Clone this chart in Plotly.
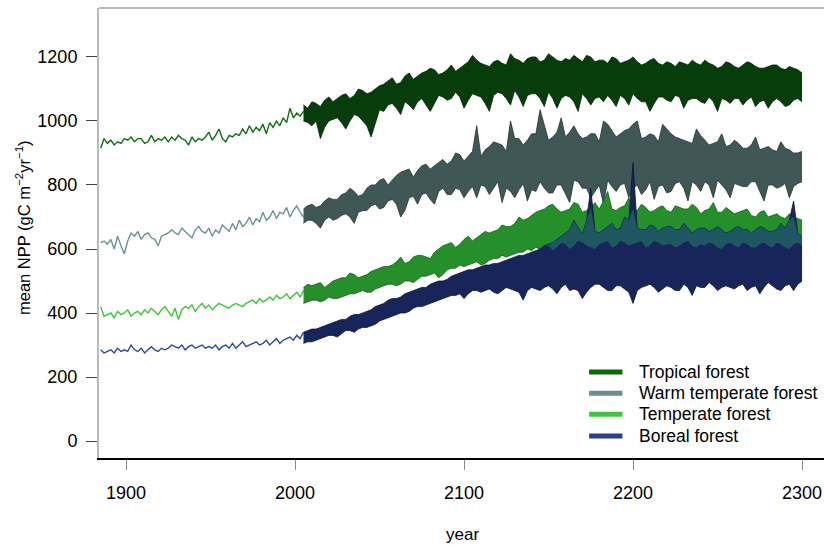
import numpy as np
import plotly.graph_objects as go

# ---------------- data ----------------
pre_years = list(range(1885, 2006, 2))        # record before 2005 (every 2 years)
post_step_years = list(range(2005, 2301, 5))  # scenario envelope, 5-year points
# the scenario envelope also carries a value half-way between every 5-year point

series_names = ["Tropical forest", "Warm temperate forest", "Temperate forest", "Boreal forest"]

tropical_pre = [915, 945, 930, 940, 925, 935, 930, 945, 940, 950,
                935, 945, 945, 930, 935, 955, 935, 945, 940, 950,
                935, 950, 940, 955, 945, 940, 925, 950, 935, 945,
                940, 950, 965, 940, 955, 975, 945, 935, 955, 950,
                960, 955, 975, 960, 985, 965, 980, 970, 990, 960,
                995, 980, 1000, 985, 1010, 995, 1040, 1010, 1025, 1015,
                1030]
warm_pre = [620, 625, 615, 630, 600, 640, 610, 585, 625, 650,
            640, 655, 630, 645, 650, 635, 630, 610, 640, 645,
            650, 660, 650, 645, 665, 655, 645, 635, 660, 670,
            655, 650, 665, 640, 660, 650, 675, 665, 655, 680,
            660, 690, 670, 680, 700, 675, 695, 685, 715, 690,
            700, 720, 695, 715, 710, 730, 700, 720, 735, 715,
            700]
temperate_pre = [420, 390, 395, 400, 385, 405, 395, 400, 410, 390,
                 400, 405, 395, 410, 400, 415, 405, 395, 410, 420,
                 405, 390, 415, 380, 410, 420, 415, 425, 405, 420,
                 430, 415, 425, 410, 420, 430, 425, 420, 415, 425,
                 430, 425, 420, 430, 435, 440, 430, 445, 435, 440,
                 450, 440, 455, 445, 450, 460, 445, 455, 465, 450,
                 470]
boreal_pre = [285, 275, 280, 285, 275, 290, 280, 285, 280, 300,
              285, 280, 290, 275, 285, 295, 285, 280, 290, 285,
              290, 300, 295, 290, 300, 285, 295, 300, 290, 295,
              300, 290, 295, 290, 300, 285, 295, 300, 290, 305,
              290, 300, 310, 295, 300, 305, 310, 300, 305, 315,
              300, 310, 320, 305, 315, 320, 325, 315, 330, 320,
              340]

# envelopes, 5-year points
tropical_low = [1000, 985, 945, 1000, 1010, 975, 1020, 1000, 950, 1035,
                1050, 1040, 1060, 1035, 1070, 1030, 1080, 1065, 1090, 1040,
                1085, 1075, 1030, 1090, 1070, 1095, 1045, 1085, 1070, 1090,
                1040, 1080, 1060, 1085, 1050, 1075, 1080, 1045, 1070, 1085,
                1060, 1030, 1075, 1065, 1080, 1040, 1070, 1060, 1075, 1030,
                1065, 1070, 1050, 1075, 1060, 1040, 1070, 1045, 1065, 1060]
tropical_high = [1050, 1060, 1045, 1075, 1070, 1085, 1080, 1095, 1090, 1110,
                 1125, 1115, 1140, 1130, 1150, 1165, 1145, 1160, 1155, 1175,
                 1205, 1180, 1170, 1190, 1175, 1195, 1180, 1200, 1185, 1210,
                 1190, 1195, 1205, 1185, 1200, 1190, 1180, 1195, 1185, 1200,
                 1175, 1190, 1180, 1185, 1170, 1180, 1190, 1175, 1180, 1165,
                 1185, 1170, 1175, 1180, 1165, 1170, 1175, 1160, 1165, 1150]
warm_low = [680, 690, 665, 700, 695, 710, 680, 720, 735, 725,
            750, 740, 720, 765, 770, 755, 780, 770, 790, 760,
            795, 800, 770, 810, 790, 760, 805, 785, 810, 775,
            800, 770, 815, 790, 760, 800, 815, 780, 805, 790,
            770, 810, 795, 775, 805, 790, 810, 780, 800, 815,
            785, 805, 795, 810, 780, 800, 790, 805, 795, 810]
warm_high = [725, 740, 735, 760, 755, 775, 780, 770, 800, 815,
             800, 830, 845, 825, 860, 850, 870, 865, 900, 875,
             905, 890, 920, 930, 905, 945, 925, 960, 1035, 940,
             965, 950, 985, 945, 960, 935, 990, 950, 970, 990,
             945, 960, 935, 975, 950, 940, 930, 955, 925, 935,
             920, 940, 915, 925, 910, 920, 905, 915, 900, 905]
temperate_low = [430, 440, 435, 450, 445, 455, 460, 470, 465, 480,
                 490, 485, 500, 495, 515, 520, 510, 535, 540, 545,
                 555, 550, 565, 570, 575, 585, 590, 595, 600, 610,
                 605, 615, 610, 620, 605, 615, 625, 610, 620, 615,
                 625, 610, 620, 615, 605, 620, 610, 615, 620, 605,
                 615, 610, 620, 605, 615, 610, 620, 605, 615, 610]
temperate_high = [480, 485, 495, 490, 505, 510, 520, 515, 530, 540,
                  545, 560, 555, 575, 580, 570, 600, 615, 605, 630,
                  625, 645, 650, 660, 670, 680, 690, 705, 720, 735,
                  725, 720, 745, 715, 730, 725, 780, 720, 735, 725,
                  740, 715, 730, 720, 735, 725, 740, 710, 725, 715,
                  730, 710, 720, 705, 715, 700, 710, 695, 700, 690]
boreal_low = [305, 310, 320, 330, 325, 345, 340, 355, 360, 375,
              385, 395, 400, 415, 420, 430, 440, 450, 455, 445,
              470, 465, 475, 460, 480, 470, 440, 480, 470, 485,
              460, 490, 475, 445, 480, 490, 470, 485, 475, 430,
              480, 490, 465, 485, 470, 490, 455, 480, 495, 470,
              485, 475, 490, 480, 460, 495, 475, 485, 470, 500]
boreal_high = [340, 350, 355, 365, 375, 380, 395, 400, 410, 425,
               440, 445, 460, 470, 480, 490, 500, 505, 520, 530,
               535, 545, 550, 555, 565, 575, 580, 590, 600, 615,
               630, 650, 690, 645, 790, 650, 670, 660, 700, 870,
               660, 675, 655, 670, 660, 680, 650, 665, 655, 670,
               650, 665, 660, 650, 670, 655, 660, 665, 750, 640]

# envelopes, half-way points (2007.5, 2012.5, ... 2297.5)
tropical_low_mid = [995, 1000, 980, 1005, 995, 1000, 1015, 985, 990,
                    1030, 1055, 1020, 1050, 1060, 1050, 1055, 1075, 1070, 1075,
                    1065, 1080, 1055, 1080, 1085, 1050, 1075, 1080, 1085, 1045,
                    1070, 1070, 1075, 1030, 1070, 1070, 1060, 1065, 1080, 1050,
                    1070, 1060, 1055, 1075, 1060, 1075, 1065, 1070, 1055, 1060,
                    1070, 1055, 1070, 1065, 1045, 1065, 1060, 1060, 1050, 1070]
tropical_high_mid = [1040, 1055, 1065, 1060, 1080, 1070, 1100, 1085, 1100,
                     1115, 1135, 1120, 1150, 1140, 1155, 1160, 1150, 1175, 1165,
                     1185, 1190, 1175, 1185, 1180, 1210, 1190, 1195, 1200, 1190,
                     1200, 1185, 1190, 1195, 1205, 1185, 1190, 1200, 1180, 1190,
                     1185, 1180, 1195, 1175, 1180, 1185, 1175, 1180, 1190, 1175,
                     1170, 1180, 1165, 1185, 1170, 1165, 1175, 1165, 1170, 1160]
warm_low_mid = [690, 680, 690, 690, 705, 700, 715, 720, 740,
                730, 755, 700, 760, 740, 775, 740, 790, 770, 785,
                780, 760, 795, 790, 745, 780, 785, 750, 780, 790,
                775, 800, 745, 810, 790, 780, 740, 795, 800, 760,
                800, 785, 755, 800, 780, 810, 750, 800, 810, 760,
                800, 760, 800, 795, 810, 750, 800, 795, 760, 805]
warm_high_mid = [735, 730, 750, 755, 770, 790, 765, 790, 800,
                 820, 815, 840, 850, 845, 865, 860, 880, 875, 895,
                 890, 985, 910, 935, 925, 1000, 945, 940, 960, 985,
                 950, 1010, 965, 960, 950, 960, 1000, 970, 960, 975,
                 1000, 950, 955, 990, 960, 945, 935, 975, 940, 930,
                 960, 925, 930, 915, 950, 915, 910, 935, 910, 900]
temperate_low_mid = [435, 440, 440, 445, 450, 460, 465, 465, 475,
                     485, 490, 490, 500, 505, 515, 525, 520, 540, 550,
                     550, 560, 555, 570, 580, 580, 590, 600, 605, 610,
                     595, 620, 600, 625, 610, 600, 620, 605, 625, 610,
                     620, 605, 625, 610, 615, 610, 625, 605, 610, 615,
                     600, 620, 605, 615, 605, 620, 605, 615, 600, 620]
temperate_high_mid = [490, 490, 480, 500, 510, 525, 510, 520, 535,
                      545, 550, 575, 560, 580, 575, 590, 610, 620, 615,
                      640, 635, 655, 655, 675, 670, 700, 695, 715, 725,
                      740, 715, 725, 740, 720, 745, 750, 725, 730, 760,
                      720, 730, 720, 735, 715, 730, 725, 730, 720, 745,
                      715, 720, 715, 725, 700, 720, 705, 700, 710, 695]
boreal_low_mid = [310, 315, 325, 330, 335, 345, 350, 355, 365,
                  380, 390, 400, 405, 420, 425, 435, 445, 455, 460,
                  460, 470, 470, 465, 470, 475, 465, 470, 475, 480,
                  475, 480, 470, 470, 465, 490, 480, 470, 485, 465,
                  470, 485, 480, 475, 480, 470, 480, 485, 480, 485,
                  480, 480, 485, 470, 485, 480, 485, 470, 490, 490]
boreal_high_mid = [345, 350, 360, 370, 380, 390, 395, 405, 420,
                   430, 445, 450, 465, 475, 480, 495, 500, 515, 525,
                   535, 540, 550, 555, 560, 570, 580, 585, 595, 610,
                   620, 640, 660, 665, 690, 655, 660, 680, 665, 690,
                   665, 660, 670, 665, 670, 660, 665, 660, 665, 660,
                   660, 655, 670, 660, 660, 665, 655, 680, 690, 650]


def interleave(main, mid):
    out = []
    for k, v in enumerate(main):
        out.append(v)
        if k < len(mid):
            out.append(mid[k])
    return out


post_years = interleave(post_step_years, [y + 2.5 for y in post_step_years[:-1]])

# ---------------- styles ----------------
line_colors = ["#0e6e10", "#6b9393", "#38c838", "#2a4898"]
band_colors = ["#073c0b", "#3f5856", "#25902a", "#17255a"]
edge_colors = ["#03240a", "#24332f", "#145a18", "#0c1436"]
legend_colors = ["#066a0a", "#6a8f8c", "#3ac93a", "#2a418f"]
overlap_color = "#1e5661"

pre = [tropical_pre, warm_pre, temperate_pre, boreal_pre]
lows = [interleave(tropical_low, tropical_low_mid), interleave(warm_low, warm_low_mid),
        interleave(temperate_low, temperate_low_mid), interleave(boreal_low, boreal_low_mid)]
highs = [interleave(tropical_high, tropical_high_mid), interleave(warm_high, warm_high_mid),
         interleave(temperate_high, temperate_high_mid), interleave(boreal_high, boreal_high_mid)]

fig = go.Figure()

for i in range(4):
    fig.add_trace(go.Scatter(x=pre_years, y=pre[i], mode="lines",
                             line=dict(color=line_colors[i], width=1.4),
                             showlegend=False, hoverinfo="skip"))
    fig.add_trace(go.Scatter(x=post_years, y=lows[i], mode="lines",
                             line=dict(color=edge_colors[i], width=0.8),
                             showlegend=False, hoverinfo="skip"))
    fig.add_trace(go.Scatter(x=post_years, y=highs[i], mode="lines",
                             line=dict(color=edge_colors[i], width=0.8),
                             fill="tonexty", fillcolor=band_colors[i],
                             showlegend=False, hoverinfo="skip"))

# overlap of temperate and boreal envelopes (mixed colour)
ov_lo = np.maximum(np.array(lows[2]), np.array(lows[3]))
ov_hi = np.minimum(np.array(highs[2]), np.array(highs[3]))
ov_hi = np.maximum(ov_hi, ov_lo)
fig.add_trace(go.Scatter(x=post_years, y=ov_lo, mode="lines", line=dict(width=0),
                         showlegend=False, hoverinfo="skip"))
fig.add_trace(go.Scatter(x=post_years, y=ov_hi, mode="lines", line=dict(width=0),
                         fill="tonexty", fillcolor=overlap_color,
                         showlegend=False, hoverinfo="skip"))

# ---------------- legend (drawn manually, R style) ----------------
legend_rows_y = [0.191, 0.144, 0.097, 0.049]
shapes = [dict(type="line", xref="paper", yref="paper", x0=0, x1=1, y0=1, y1=1,
               line=dict(color="#a0a0a0", width=1.5))]
annotations = []
for i, name in enumerate(series_names):
    shapes.append(dict(type="line", xref="paper", yref="paper",
                       x0=0.676, x1=0.722, y0=legend_rows_y[i], y1=legend_rows_y[i],
                       line=dict(color=legend_colors[i], width=5)))
    annotations.append(dict(text=name, xref="paper", yref="paper",
                            x=0.742, y=legend_rows_y[i], xanchor="left", yanchor="middle",
                            showarrow=False, font=dict(size=17.5, color="#000")))

annotations.append(dict(text="mean NPP (gC m<sup>\u22122</sup>yr<sup>\u22121</sup>)",
                        xref="paper", yref="paper", x=-0.105, y=0.513,
                        xanchor="center", yanchor="middle", textangle=-90,
                        showarrow=False, font=dict(size=16.5, color="#000")))
annotations.append(dict(text="year", xref="paper", yref="paper", x=0.502, y=-0.171,
                        xanchor="center", yanchor="middle", showarrow=False,
                        font=dict(size=17, color="#000")))

fig.update_layout(
    width=824, height=546,
    margin=dict(l=99, r=0, t=8, b=88),
    paper_bgcolor="white", plot_bgcolor="white",
    font=dict(family="Liberation Sans, Arial, sans-serif", color="#000"),
    shapes=shapes, annotations=annotations, showlegend=False,
    xaxis=dict(range=[1884, 2313], tickvals=[1900, 2000, 2100, 2200, 2300],
               ticks="outside", ticklen=10, tickwidth=1, tickcolor="#888",
               showline=True, linecolor="#000", linewidth=1.5,
               showgrid=False, zeroline=False, tickfont=dict(size=18, color="#000"),
               ticklabelstandoff=8),
    yaxis=dict(range=[-53, 1353], tickvals=[0, 200, 400, 600, 800, 1000, 1200],
               ticks="outside", ticklen=11, tickwidth=1, tickcolor="#444",
               showline=True, linecolor="#bbbbbb", linewidth=2,
               showgrid=False, zeroline=False, tickfont=dict(size=18, color="#000"),
               ticklabelstandoff=5),
)

fig.write_html("out.html", config={"displayModeBar": False},
               post_script="document.body.style.margin='0';document.body.style.overflow='hidden';")
